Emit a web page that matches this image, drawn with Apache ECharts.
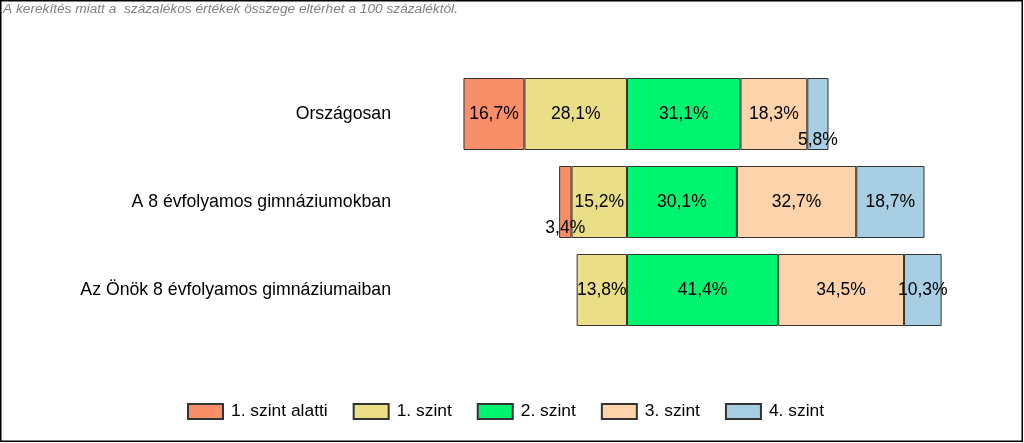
<!DOCTYPE html>
<html>
<head>
<meta charset="utf-8">
<script src="https://cdn.jsdelivr.net/npm/echarts@6/dist/echarts.min.js"></script>
<style>
html,body{margin:0;padding:0;background:#fff;}
#c{width:1024px;height:443px;}
</style>
</head>
<body>
<div id="c"></div>
<script>
const categories = ['Országosan', 'A 8 évfolyamos gimnáziumokban', 'Az Önök 8 évfolyamos gimnáziumaiban'];
const seriesNames = ['1. szint alatti', '1. szint', '2. szint', '3. szint', '4. szint'];
const belowLevel = [16.7, 3.4, 0];
const level1 = [28.1, 15.2, 13.8];
const level2 = [31.1, 30.1, 41.4];
const level3 = [18.3, 32.7, 34.5];
const level4 = [5.8, 18.7, 10.3];
const colors = ['#F98F69', '#EADF86', '#00F470', '#FDD3AC', '#A7CEE2'];
const note = 'A kerekítés miatt a  százalékos értékek összege eltérhet a 100 százaléktól.';

const FONT = 'Liberation Sans, Arial, sans-serif';
const fmt = v => v ? Math.abs(v).toFixed(1).replace('.', ',') + '%' : '';

function mk(name, vals, sign, color) {
  return {
    name: name,
    type: 'bar',
    stack: 'total',
    barWidth: 72,
    itemStyle: { color: color, borderColor: '#333', borderWidth: 1 },
    label: {
      show: true, position: 'inside', color: '#000', fontSize: 17.5,
      fontFamily: FONT,
      formatter: p => fmt(p.value)
    },
    data: vals.map(v => {
      if (!v) return null;
      const d = { value: sign * v };
      if (v < 8) d.label = { offset: [0, 26] };
      return d;
    })
  };
}

const chart = echarts.init(document.getElementById('c'));
chart.setOption({
  animation: false,
  backgroundColor: '#fff',
  textStyle: { fontFamily: FONT },
  title: {
    text: note, left: 3, top: 2, padding: 0,
    textStyle: { fontSize: 13.7, fontStyle: 'italic', fontWeight: 'normal', color: '#808080', fontFamily: FONT }
  },
  grid: { left: 408, right: 32, top: 70, bottom: 109, containLabel: false },
  xAxis: { type: 'value', min: -60, max: 100, show: false },
  yAxis: {
    type: 'category', data: categories, inverse: true,
    axisLine: { show: false }, axisTick: { show: false },
    axisLabel: { fontSize: 17.7, color: '#000', margin: 17, fontFamily: FONT }
  },
  legend: {
    data: seriesNames, left: 187, top: 403, padding: 0,
    icon: 'rect',
    itemWidth: 35, itemHeight: 15, itemGap: 25,
    textStyle: { fontSize: 17.4, color: '#000', fontFamily: FONT, padding: [0, 0, 0, 3] }
  },
  graphic: [{
    type: 'rect', shape: { x: 0.75, y: 0.75, width: 1021.5, height: 440.5 },
    style: { fill: 'none', stroke: '#000', lineWidth: 1.5 }, z: 100
  }],
  series: [
    mk(seriesNames[1], level1, -1, colors[1]),
    mk(seriesNames[0], belowLevel, -1, colors[0]),
    mk(seriesNames[2], level2, 1, colors[2]),
    mk(seriesNames[3], level3, 1, colors[3]),
    mk(seriesNames[4], level4, 1, colors[4])
  ]
});
</script>
</body>
</html>
